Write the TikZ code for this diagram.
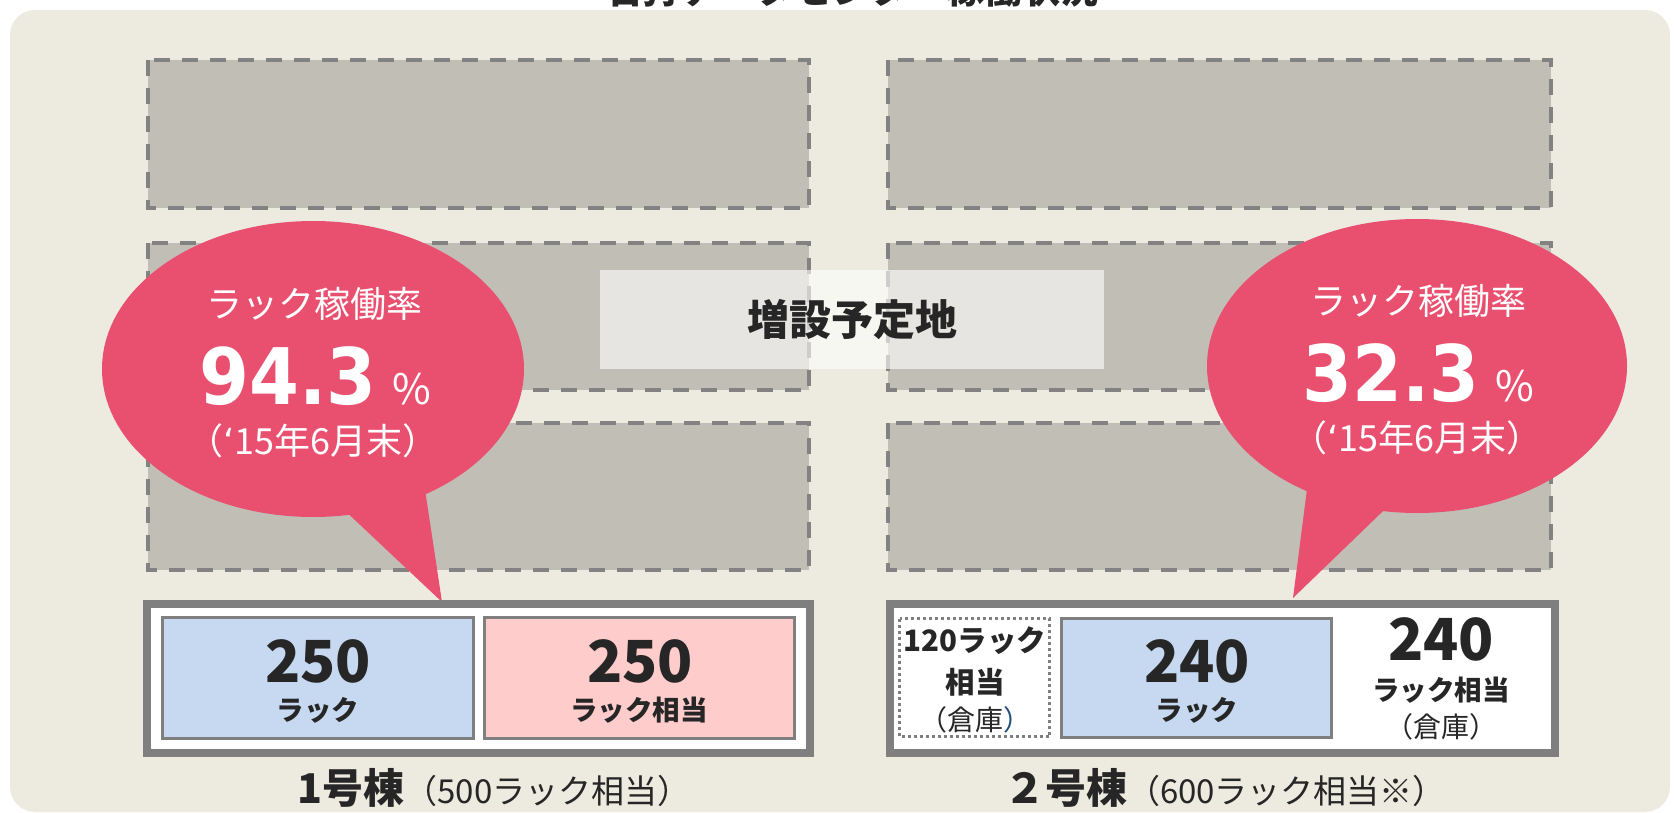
\documentclass[tikz,border=0pt]{standalone}
\usepackage{fontspec}
\usepackage{graphicx}
\setmainfont{Noto Sans CJK JP}
\newfontfamily\numfont{DejaVu Sans}
\newcommand\myfs[1]{\fontsize{#1}{#1}\selectfont}
\definecolor{panelc}{HTML}{EDEBE0}
\definecolor{sitec}{HTML}{C1BEB6}
\definecolor{dashc}{HTML}{828282}
\definecolor{boxc}{HTML}{7F7F7F}
\definecolor{bubblec}{HTML}{E9506F}
\definecolor{bluec}{HTML}{C6D9F1}
\definecolor{pinkc}{HTML}{FFCCCC}
\definecolor{darkc}{HTML}{262626}
\definecolor{navyc}{HTML}{1F4E79}
\begin{document}
\begin{tikzpicture}[x=1pt,y=-1pt,
  sitebox/.style={fill=sitec,draw=dashc,line width=4.5pt,dash pattern=on 16pt off 12pt},
  outerbox/.style={fill=white,draw=boxc,line width=8pt},
  innerbox/.style={draw=boxc,line width=3pt},
  dotbox/.style={draw=boxc,line width=3pt,dash pattern=on 3pt off 3pt},
  bubble/.style={fill=bubblec},
  wtxt/.style={text=white,inner sep=0pt},
  dtxt/.style={text=darkc,inner sep=0pt},
  bignum/.style={dtxt,anchor=base,font=\bfseries\myfs{58}},
  bunit/.style={dtxt,font=\bfseries\myfs{27.5}}
]
\useasboundingbox (0,0) rectangle (1674,813);
% panel
\fill[panelc,rounded corners=25pt] (10,10) rectangle (1670,812);
% title (cut off by the page top, as in the original)
\node[dtxt,anchor=base,font=\bfseries\myfs{38}] (title) at (851,4) {石狩データセンター稼働状況};
% planned sites
\draw[sitebox] (148,60) rectangle (809,208);
\draw[sitebox] (148,243) rectangle (809,390);
\draw[sitebox] (148,423) rectangle (809,570);
\draw[sitebox] (888,60) rectangle (1551,208);
\draw[sitebox] (888,243) rectangle (1551,390);
\draw[sitebox] (888,423) rectangle (1551,570);
\fill[white,opacity=0.6] (600,270) rectangle (1104,369);
\node[dtxt,font=\bfseries\myfs{42}] (plan) at (852,320) {増設予定地};
% left bubble
\fill[bubble] (313,369) ellipse [x radius=211pt, y radius=148pt];
\coordinate (ltip) at (442,602);
\fill[bubble] (ltip) -- (322,489) -- (421,463) -- cycle;
\node[wtxt,font=\myfs{36}] (l1) at (314,304) {ラック稼働率};
\node[wtxt,anchor=base] (l2) at (315,404) {\scalebox{0.92}[1]{\numfont\bfseries\myfs{78}94.3}\hspace{16pt}{\myfs{42}\%}};
\node[wtxt,font=\myfs{36}] (l3) at (313,441) {（{\numfont ‘}15年6月末）};
% right bubble
\fill[bubble] (1417,366) ellipse [x radius=210pt, y radius=147pt];
\coordinate (rtip) at (1293,598);
\fill[bubble] (rtip) -- (1311,458) -- (1409,486) -- cycle;
\node[wtxt,font=\myfs{36}] (r1) at (1418,301) {ラック稼働率};
\node[wtxt,anchor=base] (r2) at (1418,401) {\scalebox{0.92}[1]{\numfont\bfseries\myfs{78}32.3}\hspace{16pt}{\myfs{42}\%}};
\node[wtxt,font=\myfs{36}] (r3) at (1417,438) {（{\numfont ‘}15年6月末）};
% building 1
\draw[outerbox] (147,604) rectangle (810,753);
\draw[innerbox,fill=bluec] (162.5,617.5) rectangle (473.5,738.5);
\draw[innerbox,fill=pinkc] (484.5,617.5) rectangle (794.5,738.5);
\node[bignum] (a1) at (318,682) {250};
\node[bunit] (a2) at (318,710) {ラック};
\node[bignum] (b1) at (640,682) {250};
\node[bunit] (b2) at (639,710) {ラック相当};
\node[dtxt] (bl1) at (494,788) {{\bfseries\myfs{41}1号棟}{\myfs{33}（500ラック相当）}};
% building 2
\draw[outerbox] (890,604) rectangle (1555,753);
\draw[dotbox] (899.5,618.5) rectangle (1049.5,736.5);
\node[dtxt,font=\bfseries\myfs{29.5}] (c1) at (975,641) {120ラック};
\node[dtxt,font=\bfseries\myfs{29.5}] (c2) at (975,682) {相当};
\node[dtxt,font=\myfs{28}] (c3) at (975,720) {（倉庫{\color{navyc}）}};
\draw[innerbox,fill=bluec] (1061.5,618.5) rectangle (1331.5,737.5);
\node[bignum] (d1) at (1197,682) {240};
\node[bunit] (d2) at (1197,710) {ラック};
\node[bignum] (e1) at (1441,660) {240};
\node[bunit] (e2) at (1441,690) {ラック相当};
\node[dtxt,font=\myfs{28}] (e3) at (1441,727) {（倉庫）};
\node[dtxt] (bl2) at (1225,788) {{\bfseries\myfs{41}２号棟}{\myfs{33}（600ラック相当※）}};
\end{tikzpicture}
\end{document}
